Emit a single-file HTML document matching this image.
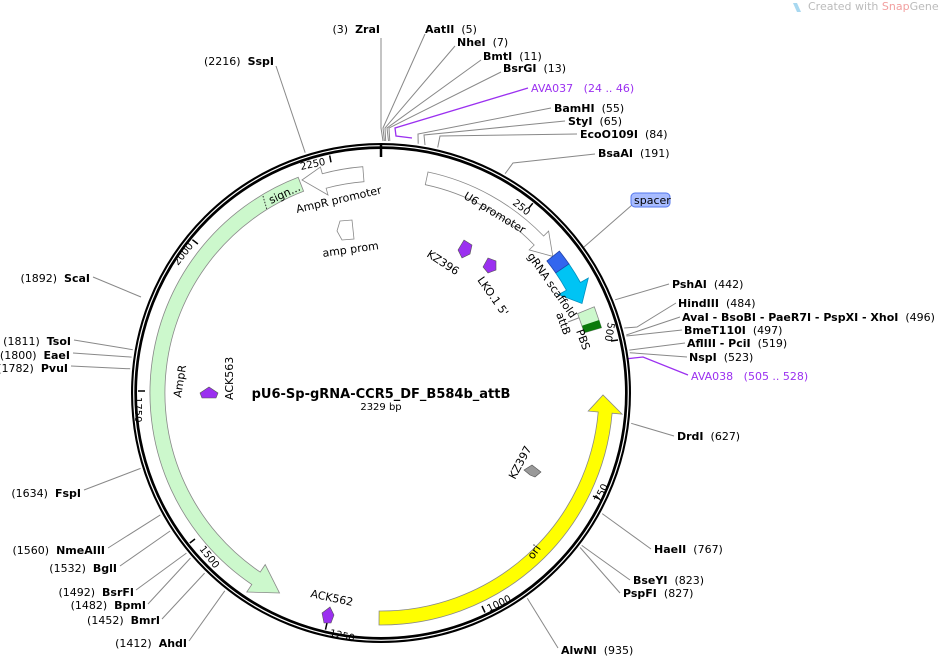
<!DOCTYPE html>
<html><head><meta charset="utf-8"><style>
html,body{margin:0;padding:0;background:#fff;}
svg{display:block;}
text{font-family:"DejaVu Sans","Liberation Sans",sans-serif;font-size:11px;fill:#000;white-space:pre;}
.b{font-weight:bold;}
.p{fill:#9b30f0;}
.s{font-size:10px;}
</style></head><body>
<svg width="940" height="657" viewBox="0 0 940 657" xmlns="http://www.w3.org/2000/svg" xml:space="preserve">
<path d="M793 3 L797 3 L801 12 L797 12 Z" fill="#a8d8f0"/>
<text x="808" y="10" style="font-size:11px;fill:#bbb">Created with <tspan style="fill:#f2a0a0">Snap</tspan>Gene®</text>

<g stroke="#888" stroke-width="1" fill="none">
<polyline points="383,141 381,128 381,38"/>
<polyline points="384.4,141 383,128 425,34"/>
<polyline points="385.7,141 385,128 455,46"/>
<polyline points="388.5,141 387,128 481,60"/>
<polyline points="389.8,141 389,128 501,72"/>
<polyline points="418.2,143.8 418,134 551,108"/>
<polyline points="425,145 424,135 565,121"/>
<polyline points="437.7,147.5 440,136 577,134"/>
<polyline points="505.1,173.7 513,163 595,154"/>
<polyline points="615.1,299.8 669,284"/>
<polyline points="624.2,328 637,327 676,303"/>
<polyline points="626.3,335 680,317"/>
<polyline points="626.4,336 682,330"/>
<polyline points="629.3,350.1 685,343"/>
<polyline points="629.8,352.7 687,357"/>
<polyline points="631.2,423.3 674,436"/>
<polyline points="602.2,513.6 651,549"/>
<polyline points="581.7,545.4 630,580"/>
<polyline points="580.1,547.5 620,593"/>
<polyline points="527.3,598.2 558,648"/>
<polyline points="224.8,590.8 189,641"/>
<polyline points="204.6,573.1 162,619"/>
<polyline points="190.5,558 148,604"/>
<polyline points="186.4,553.1 136,590"/>
<polyline points="170.1,531 120,566"/>
<polyline points="160.3,514.9 108,548"/>
<polyline points="140.6,468.4 84,490"/>
<polyline points="130.2,368.8 71,366"/>
<polyline points="131.6,357.1 73,353"/>
<polyline points="132.8,349.7 74,340"/>
<polyline points="141,297 93,277"/>
<polyline points="305.2,152.7 276,66"/>
<polyline points="632,205 584,247"/>
<polyline points="568,322 581,317"/>
</g>
<g stroke="#9b30f0" stroke-width="1.3" fill="none">
<polyline points="528,88 395,128 396,136 412,138"/>
<polyline points="622,343 625,359 643,357 688,375"/>
</g>

<circle cx="381" cy="393" r="247" fill="none" stroke="#000" stroke-width="6"/>
<circle cx="381" cy="393" r="247.3" fill="none" stroke="#fff" stroke-width="1.2"/>
<line x1="381" y1="143" x2="381" y2="157" stroke="#000" stroke-width="2.5"/>

<g stroke="#000" stroke-width="1.5">
<line x1="532.8" y1="203.2" x2="528.4" y2="208.6"/>
<line x1="618" y1="340" x2="611" y2="341"/>
<line x1="599.6" y1="499" x2="593" y2="496"/>
<line x1="485" y1="612.5" x2="482" y2="606"/>
<line x1="325.5" y1="629.6" x2="327" y2="622.8"/>
<line x1="189.8" y1="543" x2="195" y2="539"/>
<line x1="138" y1="391" x2="145" y2="391"/>
<line x1="192.4" y1="239.7" x2="197.9" y2="244"/>
<line x1="329.7" y1="155.5" x2="331" y2="162.3"/>
</g>
<text class="s" transform="translate(512,204) rotate(38)">250</text>
<text class="s" transform="translate(608,322) rotate(100)">500</text>
<text class="s" transform="translate(600,503) rotate(-64)">750</text>
<text class="s" transform="translate(489,612) rotate(-26)">1000</text>
<text class="s" transform="translate(329,636) rotate(13)">1250</text>
<text class="s" transform="translate(199,549) rotate(52)">1500</text>
<text class="s" transform="translate(135,397) rotate(90)">1750</text>
<text class="s" transform="translate(178,266) rotate(-52)">2000</text>
<text class="s" transform="translate(301,170) rotate(-12)">2250</text>

<path d="M298.2 177.3 A231 231 0 0 0 251.8 584.5 L246.8 592 L279.5 593 L265.2 564.6 L260.2 572.1 A216 216 0 0 1 303.6 191.3 Z" fill="#ccf8cc" stroke="#888" stroke-width="0.8"/>
<line x1="263" y1="196" x2="267" y2="210" stroke="#333" stroke-dasharray="1.5,1.5"/>
<text transform="translate(271,204) rotate(-25)">sign...</text>
<text transform="translate(181,398) rotate(-81)">AmpR</text>

<path d="M362.8 166.7 L364 181.7 A212 212 0 0 0 326.1 188.2 L328 195 L302 180 L320.4 167 L322.3 173.7 A227 227 0 0 1 362.8 166.7 Z" fill="#fff" stroke="#888" stroke-width="0.8"/>
<text transform="translate(297,213) rotate(-13)">AmpR promoter</text>
<path d="M340 221 L352 220 L354 239 L342 240 L337 231 Z" fill="#fff" stroke="#888" stroke-width="0.8"/>
<text transform="translate(323,257) rotate(-8)">amp prom</text>

<path d="M428 172 A226 226 0 0 1 543.6 236 L548.6 231.1 L552.8 256.4 L529.2 249.9 L534.2 245 A213 213 0 0 0 425.3 184.7 Z" fill="#fff" stroke="#888" stroke-width="0.8"/>
<text transform="translate(463,198) rotate(31)">U6 promoter</text>

<path d="M568.9 263.9 A228 228 0 0 1 580.4 282.5 L588.3 278.1 L582 303.5 L558.5 294.6 L566.4 290.2 A212 212 0 0 0 555.7 272.9 Z" fill="#00c4f4" stroke="#0090c0" stroke-width="0.8"/>
<path d="M559.4 251.1 A228 228 0 0 1 568.9 263.9 L555.7 272.9 A212 212 0 0 0 546.9 261 Z" fill="#3366ee" stroke="#2244aa" stroke-width="0.8"/>
<text transform="translate(527,256) rotate(55)">gRNA scaffold</text>

<path d="M594.3 306.8 L601.5 327.7 L584.3 332.8 L577.6 313.6 Z" fill="#ccf8cc" stroke="#888" stroke-width="0.8"/>
<path d="M599.1 320 L601.5 327.7 L584.3 332.8 L582 325.7 Z" fill="#0a7a0a"/>
<text transform="translate(556,314) rotate(70)">attB</text>
<text transform="translate(576,331) rotate(70)">PBS</text>

<rect x="631" y="193" width="39" height="14" rx="4" fill="#a8bcff" stroke="#5577ee" stroke-width="1"/>
<text x="634" y="204">spacer</text>

<path d="M379 625 A232 232 0 0 0 612.1 413.2 L622.1 414.1 L603 395 L588.2 411.1 L598.2 412 A218 218 0 0 1 379.1 611 Z" fill="#ffff00" stroke="#888" stroke-width="0.8"/>
<text transform="translate(533,560) rotate(-55)">ori</text>

<path d="M458 250 L464 240 L472 245 L470 254 L462 258 Z" fill="#9b30f0" stroke="#555" stroke-width="0.6"/>
<text transform="translate(426,256) rotate(33)">KZ396</text>
<path d="M483 267 L488 258 L496 261 L496 270 L488 273 Z" fill="#9b30f0" stroke="#555" stroke-width="0.6"/>
<text transform="translate(477,280) rotate(55)">LKO.1 5'</text>
<path d="M200 393 L209 387 L218 393 L216 398 L202 398 Z" fill="#9b30f0" stroke="#555" stroke-width="0.6"/>
<text transform="translate(233,400) rotate(-90)">ACK563</text>
<path d="M322 613 L330 607 L334 615 L331 623 L324 623 Z" fill="#9b30f0" stroke="#555" stroke-width="0.6"/>
<text transform="translate(310,597) rotate(12)">ACK562</text>
<path d="M524 470 L532 465 L541 472 L535 477 L530 475 Z" fill="#999" stroke="#555" stroke-width="0.6"/>
<text transform="translate(515,480) rotate(-62)">KZ397</text>

<text x="381" y="398" text-anchor="middle" class="b" style="font-size:13px">pU6-Sp-gRNA-CCR5_DF_B584b_attB</text>
<text x="381" y="410" text-anchor="middle" style="font-size:10px">2329 bp</text>

<text x="380" y="33" text-anchor="end">(3)  <tspan class="b">ZraI</tspan></text>
<text x="425" y="33"><tspan class="b">AatII</tspan>  (5)</text>
<text x="457" y="46"><tspan class="b">NheI</tspan>  (7)</text>
<text x="483" y="60"><tspan class="b">BmtI</tspan>  (11)</text>
<text x="503" y="72"><tspan class="b">BsrGI</tspan>  (13)</text>
<text x="531" y="92" class="p">AVA037   (24 .. 46)</text>
<text x="554" y="112"><tspan class="b">BamHI</tspan>  (55)</text>
<text x="568" y="125"><tspan class="b">StyI</tspan>  (65)</text>
<text x="580" y="138"><tspan class="b">EcoO109I</tspan>  (84)</text>
<text x="598" y="157"><tspan class="b">BsaAI</tspan>  (191)</text>
<text x="672" y="288"><tspan class="b">PshAI</tspan>  (442)</text>
<text x="678" y="307"><tspan class="b">HindIII</tspan>  (484)</text>
<text x="682" y="321"><tspan class="b">AvaI - BsoBI - PaeR7I - PspXI - XhoI</tspan>  (496)</text>
<text x="684" y="334"><tspan class="b">BmeT110I</tspan>  (497)</text>
<text x="687" y="347"><tspan class="b">AflIII - PciI</tspan>  (519)</text>
<text x="689" y="361"><tspan class="b">NspI</tspan>  (523)</text>
<text x="691" y="380" class="p">AVA038   (505 .. 528)</text>
<text x="677" y="440"><tspan class="b">DrdI</tspan>  (627)</text>
<text x="654" y="553"><tspan class="b">HaeII</tspan>  (767)</text>
<text x="633" y="584"><tspan class="b">BseYI</tspan>  (823)</text>
<text x="623" y="597"><tspan class="b">PspFI</tspan>  (827)</text>
<text x="561" y="654"><tspan class="b">AlwNI</tspan>  (935)</text>
<text x="274" y="65" text-anchor="end">(2216)  <tspan class="b">SspI</tspan></text>
<text x="90" y="282" text-anchor="end">(1892)  <tspan class="b">ScaI</tspan></text>
<text x="71" y="345" text-anchor="end">(1811)  <tspan class="b">TsoI</tspan></text>
<text x="70" y="359" text-anchor="end">(1800)  <tspan class="b">EaeI</tspan></text>
<text x="68" y="372" text-anchor="end">(1782)  <tspan class="b">PvuI</tspan></text>
<text x="81" y="497" text-anchor="end">(1634)  <tspan class="b">FspI</tspan></text>
<text x="105" y="554" text-anchor="end">(1560)  <tspan class="b">NmeAIII</tspan></text>
<text x="117" y="572" text-anchor="end">(1532)  <tspan class="b">BglI</tspan></text>
<text x="134" y="596" text-anchor="end">(1492)  <tspan class="b">BsrFI</tspan></text>
<text x="146" y="609" text-anchor="end">(1482)  <tspan class="b">BpmI</tspan></text>
<text x="160" y="624" text-anchor="end">(1452)  <tspan class="b">BmrI</tspan></text>
<text x="187" y="647" text-anchor="end">(1412)  <tspan class="b">AhdI</tspan></text>
</svg>
</body></html>
